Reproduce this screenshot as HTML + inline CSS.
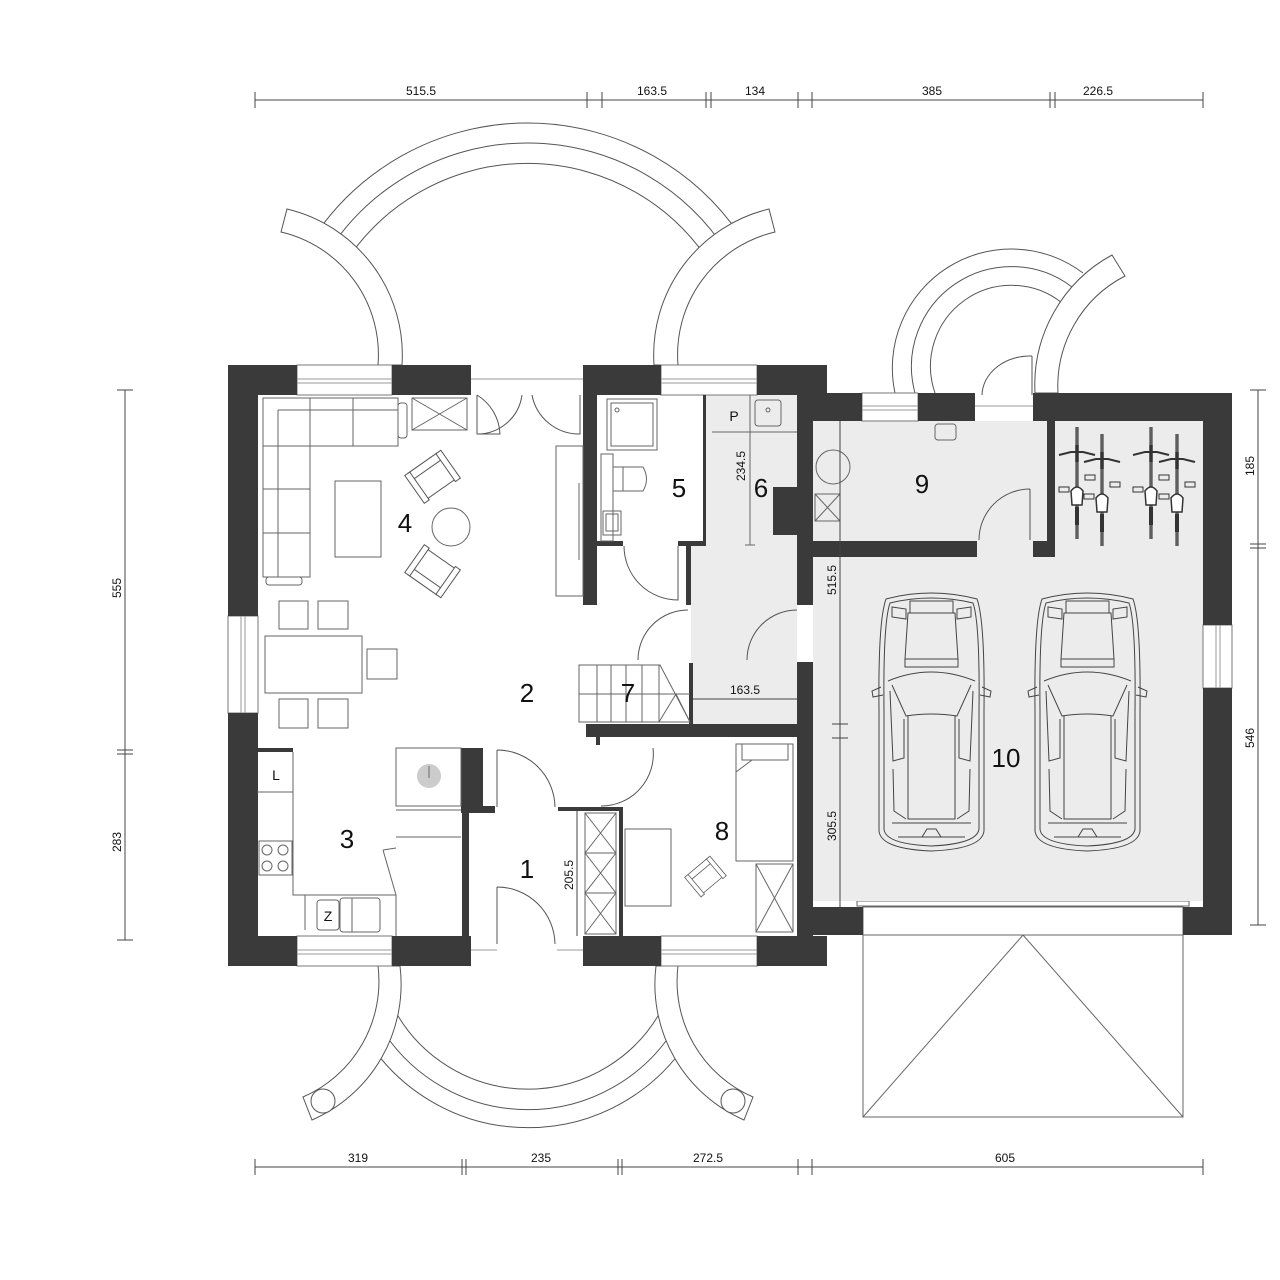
<!DOCTYPE html>
<html><head><meta charset="utf-8"><style>
html,body{margin:0;padding:0;background:#fff}
svg{display:block}
text{font-family:"Liberation Sans",sans-serif;fill:#111}
.n{font-size:26px}
.d{font-size:12px}
</style></head><body>
<svg width="1280" height="1280" viewBox="0 0 1280 1280" xmlns="http://www.w3.org/2000/svg">
<defs>
<g id="car" fill="none" stroke="#444" stroke-width="1">
<path d="M8,8 Q53,-4 99,8 Q107,30 106,120 L106,240 Q104,258 53,260 Q3,258 1,240 L1,120 Q0,30 8,8Z"/>
<path d="M12,12 Q53,2 95,12 Q102,32 101,120 L101,238 Q99,253 53,255 Q7,253 6,238 L6,120 Q5,32 12,12Z"/>
<rect x="32" y="10" width="43" height="12"/>
<path d="M14,16 L28,18 L28,28 L14,26Z M93,16 L79,18 L79,28 L93,26Z"/>
<path d="M30,22 L77,22 L80,68 L27,68 Z"/>
<rect x="27" y="68" width="53" height="8"/>
<path d="M10,90 Q53,72 97,90"/>
<path d="M14,94 L28,125 Q53,121 79,125 L93,94"/>
<path d="M30,125 L30,228 L77,228 L77,125"/>
<path d="M12,100 L15,170 L26,167 L26,128 M95,100 L92,170 L81,167 L81,128"/>
<path d="M15,178 L16,220 L28,228 M92,178 L91,220 L79,228"/>
<path d="M14,232 L93,232 M20,246 L87,246 M44,246 L49,238 L58,238 L63,246"/>
<path d="M3,96 L-6,100 L-5,106 L5,104 M104,96 L113,100 L112,106 L102,104"/>
</g>
<g id="bike" stroke="#333" fill="none">
<line x1="0" y1="0" x2="0" y2="112" stroke="#888" stroke-width="4"/>
<line x1="0" y1="0" x2="0" y2="112" stroke="#333" stroke-width="1"/>
<path d="M-18,28 L-6,25 L6,25 L18,28" stroke-width="2"/>
<line x1="0" y1="18" x2="0" y2="35" stroke-width="3"/>
<rect x="8" y="48" width="10" height="5" stroke-width="1"/>
<rect x="-18" y="60" width="10" height="5" stroke-width="1"/>
<path d="M-6,64 Q0,56 6,64 L5,78 L-5,78Z" fill="#fff" stroke-width="1.5"/>
<line x1="0" y1="80" x2="0" y2="98" stroke-width="4"/>
</g>
<g id="chair" fill="#fff" stroke="#555" stroke-width="1">
<rect x="-18" y="-16" width="36" height="32"/>
<rect x="-18" y="-16" width="36" height="8"/>
<rect x="-22" y="-16" width="6" height="34"/>
<rect x="16" y="-16" width="6" height="34"/>
</g>
</defs>

<g stroke="#444" stroke-width="1" fill="none">
<line x1="255" y1="100" x2="1203" y2="100"/>
<path d="M255,92 v16 M587,92 v16 M602,92 v16 M706,92 v16 M711,92 v16 M798,92 v16 M812,92 v16 M1050,92 v16 M1055,92 v16 M1203,92 v16"/>
<line x1="255" y1="1167" x2="1203" y2="1167"/>
<path d="M255,1159 v16 M462,1159 v16 M466,1159 v16 M618,1159 v16 M622,1159 v16 M798,1159 v16 M812,1159 v16 M1203,1159 v16"/>
<line x1="125" y1="390" x2="125" y2="940"/>
<path d="M117,390 h16 M117,750 h16 M117,754 h16 M117,940 h16"/>
<line x1="1258" y1="390" x2="1258" y2="925"/>
<path d="M1250,390 h16 M1250,544 h16 M1250,548 h16 M1250,925 h16"/>
</g>
<g class="d" text-anchor="middle">
<text x="421" y="95">515.5</text>
<text x="652" y="95">163.5</text>
<text x="755" y="95">134</text>
<text x="932" y="95">385</text>
<text x="1098" y="95">226.5</text>
<text x="358" y="1162">319</text>
<text x="541" y="1162">235</text>
<text x="708" y="1162">272.5</text>
<text x="1005" y="1162">605</text>
<text transform="translate(121,588) rotate(-90)">555</text>
<text transform="translate(121,842) rotate(-90)">283</text>
<text transform="translate(1254,466) rotate(-90)">185</text>
<text transform="translate(1254,738) rotate(-90)">546</text>
</g>

<!-- top terrace -->
<g fill="none" stroke="#555" stroke-width="1">
<path d="M316,234 A257,257 0 0 1 739,234"/>
<path d="M328,252 A237,237 0 0 1 727,252"/>
<path d="M345,263 A217,217 0 0 1 710,263"/>
</g>
<g fill="#fff" stroke="#555" stroke-width="1">
<path d="M287,209 A150,150 0 0 1 402,365 L378,365 A126,126 0 0 0 281,232 Z"/>
<path d="M769,209 A150,150 0 0 0 654,365 L678,365 A126,126 0 0 1 775,232 Z"/>
</g>
<!-- bottom terrace -->
<g fill="none" stroke="#555" stroke-width="1">
<path d="M392,1005 A152,152 0 0 0 664,1005"/>
<path d="M385,1034 A173,173 0 0 0 671,1034"/>
<path d="M370,1044 A191,191 0 0 0 686,1044"/>
</g>
<g fill="#fff" stroke="#555" stroke-width="1">
<path d="M400,966 A148,148 0 0 1 312,1120 L303,1097 A126,126 0 0 0 378,966 Z"/>
<path d="M656,966 A148,148 0 0 0 744,1120 L753,1097 A126,126 0 0 1 678,966 Z"/>
<circle cx="323" cy="1101" r="12"/>
<circle cx="733" cy="1101" r="12"/>
</g>
<!-- garage terrace -->
<g fill="none" stroke="#555" stroke-width="1">
<path d="M895,393 A119,119 0 0 1 1083,273"/>
<path d="M915,393 A100,100 0 0 1 1072,287"/>
<path d="M935,393 A81,81 0 0 1 1062,303"/>
</g>
<path d="M1112,255 L1125,276 A124,124 0 0 0 1058,393 L1035,393 A148,148 0 0 1 1112,255 Z" fill="#fff" stroke="#555"/>

<g fill="#fff" stroke="#666" stroke-width="1">
<rect x="863" y="907" width="320" height="210"/>
<line x1="863" y1="935" x2="1183" y2="935"/>
<path d="M863,1117 L1023,935 L1183,1117" fill="none"/>
<rect x="857" y="901" width="332" height="5"/>
</g>

<g fill="#ececec">
<rect x="813" y="421" width="390" height="480"/>
<rect x="706" y="395" width="91" height="150"/>
<rect x="691" y="545" width="106" height="179"/>
</g>

<g fill="#fff" stroke="#777" stroke-width="1">
<rect x="297" y="365" width="95" height="30"/>
<rect x="661" y="365" width="96" height="30"/>
<rect x="297" y="936" width="95" height="30"/>
<rect x="661" y="936" width="96" height="30"/>
<rect x="228" y="616" width="30" height="97"/>
<rect x="862" y="393" width="56" height="28"/>
<rect x="1203" y="625" width="29" height="63"/>
</g>
<g stroke="#999" stroke-width="1" fill="none">
<path d="M297,379 h95 M297,383 h95 M661,379 h96 M661,383 h96 M297,950 h95 M297,954 h95 M661,950 h96 M661,954 h96 M241,616 v97 M245,616 v97 M862,406 h56 M862,410 h56 M1216,625 v63 M1220,625 v63"/>
<path d="M471,379 h112 M471,950 h26 M557,950 h26 M975,406 h58"/>
</g>

<g fill="#3a3a3a">
<rect x="228" y="365" width="69" height="30"/>
<rect x="392" y="365" width="79" height="30"/>
<rect x="583" y="365" width="78" height="30"/>
<rect x="757" y="365" width="70" height="30"/>
<rect x="228" y="365" width="30" height="251"/>
<rect x="228" y="713" width="30" height="253"/>
<rect x="228" y="936" width="69" height="30"/>
<rect x="392" y="936" width="79" height="30"/>
<rect x="583" y="936" width="78" height="30"/>
<rect x="757" y="936" width="70" height="30"/>
<rect x="797" y="395" width="16" height="210"/>
<rect x="773" y="487" width="24" height="48"/>
<rect x="797" y="662" width="16" height="274"/>
<rect x="813" y="393" width="49" height="28"/>
<rect x="918" y="393" width="57" height="28"/>
<rect x="1033" y="393" width="199" height="28"/>
<rect x="1203" y="393" width="29" height="232"/>
<rect x="1203" y="688" width="29" height="247"/>
<rect x="813" y="907" width="50" height="28"/>
<rect x="1183" y="907" width="49" height="28"/>
<rect x="813" y="541" width="164" height="16"/>
<rect x="1033" y="541" width="22" height="16"/>
<rect x="1047" y="421" width="8" height="136"/>
<rect x="583" y="395" width="14" height="210"/>
<rect x="597" y="541" width="26" height="5"/>
<rect x="678" y="541" width="28" height="5"/>
<rect x="703" y="395" width="3" height="150"/>
<rect x="686" y="545" width="5" height="60"/>
<rect x="689" y="663" width="4" height="61"/>
<rect x="586" y="724" width="211" height="13"/>
<rect x="596" y="737" width="4" height="8"/>
<rect x="257" y="748" width="36" height="4"/>
<rect x="461" y="748" width="22" height="58"/>
<rect x="461" y="806" width="34" height="7"/>
<rect x="462" y="813" width="7" height="123"/>
<rect x="619" y="807" width="4" height="129"/>
<rect x="558" y="807" width="65" height="4"/>
</g>

<g fill="none" stroke="#555" stroke-width="1">
<path d="M477,395 V434 H500 A48,48 0 0 0 477,395"/>
<path d="M477,434 A45,45 0 0 0 522,395"/>
<path d="M580,395 V434 A48,48 0 0 1 532,395"/>
<path d="M678,546 V600 A54,54 0 0 1 624,546"/>
<path d="M688,610 A50,50 0 0 0 638,660"/>
<path d="M797,610 A50,50 0 0 0 747,660"/>
<path d="M497,750 V807 M497,750 A58,58 0 0 1 555,807"/>
<path d="M497,887 V944 M497,887 A58,58 0 0 1 555,944"/>
<path d="M601,806 A52,52 0 0 0 653,748"/>
<path d="M1030,489 V540 M1030,489 A51,51 0 0 0 979,540"/>
<path d="M1032,356 V395 M1032,356 A48,40 0 0 0 982,395"/>
</g>

<g fill="none" stroke="#666" stroke-width="1">
<path d="M263,398 H398 V446 H310 V577 H263 Z"/>
<path d="M278,410 H398 M278,410 V577"/>
<path d="M310,398 V446 M353,398 V446 M263,446 H310 M263,489 H310 M263,533 H310"/>
<rect x="398" y="403" width="9" height="35" rx="3"/>
<rect x="266" y="577" width="36" height="8" rx="3"/>
<rect x="335" y="481" width="46" height="76"/>
<rect x="412" y="398" width="55" height="32"/>
<path d="M412,398 L467,430 M467,398 L412,430"/>
<rect x="556" y="446" width="27" height="150"/>
<line x1="579" y1="483" x2="579" y2="560"/>
<circle cx="451" cy="527" r="19"/>
<rect x="265" y="636" width="97" height="57"/>
<rect x="279" y="601" width="29" height="28"/>
<rect x="318" y="601" width="30" height="28"/>
<rect x="279" y="699" width="29" height="29"/>
<rect x="318" y="699" width="30" height="29"/>
<rect x="367" y="649" width="30" height="30"/>
<path d="M293,752 V895 H396 M257,792 H293 M305,895 V930 M396,895 V936"/>
<rect x="259" y="841" width="33" height="34"/>
<circle cx="267" cy="850" r="5"/><circle cx="283" cy="850" r="5"/><circle cx="267" cy="866" r="5"/><circle cx="283" cy="866" r="5"/>
<rect x="317" y="900" width="22" height="30" rx="3"/>
<rect x="340" y="898" width="40" height="34" rx="3"/>
<line x1="352" y1="898" x2="352" y2="932"/>
<rect x="396" y="748" width="65" height="58"/>
<path d="M396,810 H461 M396,837 H461 M383,850 L396,848 M383,850 L396,895"/>
<rect x="607" y="399" width="50" height="51"/>
<rect x="611" y="403" width="42" height="43"/>
<circle cx="617" cy="410" r="2"/>
<rect x="601" y="454" width="12" height="87"/>
<rect x="613" y="467" width="10" height="24"/>
<path d="M623,467 H643 Q650,479 643,491 H623"/>
<rect x="603" y="511" width="18" height="24"/>
<rect x="606" y="514" width="12" height="17"/>
<path d="M712,432 H797 M750,395 V545 M745,545 H755"/>
<rect x="755" y="400" width="26" height="26" rx="3"/>
<circle cx="768" cy="410" r="2"/>
<circle cx="833" cy="467" r="17"/>
<rect x="815" y="494" width="25" height="27"/>
<path d="M815,494 L840,521 M840,494 L815,521"/>
<rect x="935" y="424" width="21" height="16" rx="3"/>
<path d="M579,665 H660 L690,722 H579 Z"/>
<path d="M597,665 V722 M611,665 V722 M626,665 V722 M642,665 V722 M659,665 V722 M579,694 H690 M659,722 L676,694 L690,722"/>
<rect x="736" y="744" width="57" height="117"/>
<path d="M742,744 V760 H788 V744 M736,772 L752,760"/>
<rect x="625" y="829" width="46" height="77"/>
<rect x="756" y="864" width="37" height="68"/>
<path d="M756,864 L793,932 M793,864 L756,932"/>
<rect x="585" y="813" width="31" height="121"/>
<path d="M585,853 H616 M585,893 H616 M585,813 L616,853 M616,813 L585,853 M585,853 L616,893 M616,853 L585,893 M585,893 L616,934 M616,893 L585,934"/>
</g>
<circle cx="429" cy="776" r="12" fill="#ccc"/>
<line x1="429" y1="766" x2="429" y2="778" stroke="#666"/>
<use href="#chair" transform="translate(432,476) rotate(-35)"/>
<use href="#chair" transform="translate(432,572) rotate(35) scale(1,-1)"/>
<use href="#chair" transform="translate(705,876) rotate(-40) scale(0.75)"/>

<use href="#car" x="878" y="591"/>
<use href="#car" x="1034" y="591"/>
<use href="#bike" x="1077" y="427"/>
<use href="#bike" x="1102" y="434"/>
<use href="#bike" x="1151" y="427"/>
<use href="#bike" x="1177" y="434"/>

<g stroke="#444" stroke-width="1" fill="none">
<line x1="840" y1="421" x2="840" y2="907"/>
<path d="M832,724 h16 M832,738 h16"/>
<line x1="693" y1="699" x2="797" y2="699"/>
<line x1="577" y1="811" x2="577" y2="936"/>
</g>
<g class="d" text-anchor="middle">
<text transform="translate(836,580) rotate(-90)">515.5</text>
<text transform="translate(836,826) rotate(-90)">305.5</text>
<text transform="translate(745,466) rotate(-90)">234.5</text>
<text transform="translate(573,875) rotate(-90)">205.5</text>
<text x="745" y="694">163.5</text>
<text x="734" y="421" style="font-size:14px">P</text>
<text x="276" y="780" style="font-size:14px">L</text>
<text x="328" y="921" style="font-size:14px">Z</text>
</g>

<g class="n" text-anchor="middle">
<text x="527" y="878">1</text>
<text x="527" y="702">2</text>
<text x="347" y="848">3</text>
<text x="405" y="532">4</text>
<text x="679" y="497">5</text>
<text x="761" y="497">6</text>
<text x="628" y="702">7</text>
<text x="722" y="840">8</text>
<text x="922" y="493">9</text>
<text x="1006" y="767">10</text>
</g>
</svg>
</body></html>
